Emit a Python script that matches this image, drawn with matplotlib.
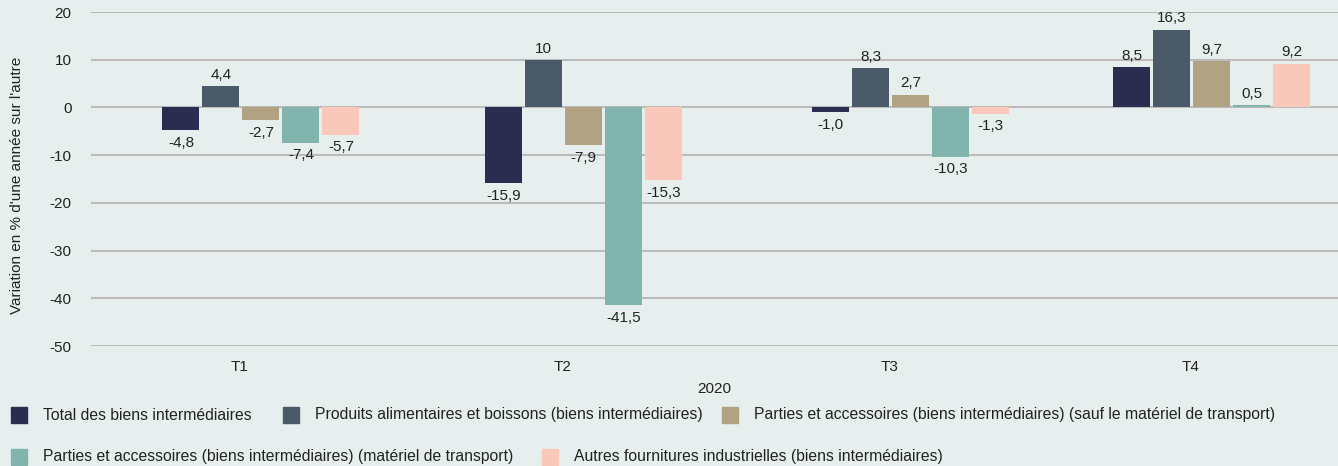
import matplotlib.pyplot as plt
from matplotlib.patches import Rectangle
import numpy as np

plt.rcParams["font.family"] = ["Liberation Sans", "DejaVu Sans"]
plt.rcParams["axes.unicode_minus"] = False

quarters = ["T1", "T2", "T3", "T4"]
series_names = [
    "Total des biens intermédiaires",
    "Produits alimentaires et boissons (biens intermédiaires)",
    "Parties et accessoires (biens intermédiaires) (sauf le matériel de transport)",
    "Parties et accessoires (biens intermédiaires) (matériel de transport)",
    "Autres fournitures industrielles (biens intermédiaires)",
]
total = [-4.8, -15.9, -1.0, 8.5]
food = [4.4, 10.0, 8.3, 16.3]
parts_excl = [-2.7, -7.9, 2.7, 9.7]
parts_transport = [-7.4, -41.5, -10.3, 0.5]
other = [-5.7, -15.3, -1.3, 9.2]
labels = [
    ["-4,8", "-15,9", "-1,0", "8,5"],
    ["4,4", "10", "8,3", "16,3"],
    ["-2,7", "-7,9", "2,7", "9,7"],
    ["-7,4", "-41,5", "-10,3", "0,5"],
    ["-5,7", "-15,3", "-1,3", "9,2"],
]
colors = ["#2b2d50", "#4a5a68", "#b0a283", "#82b4ae", "#f9c8ba"]
bg = "#e7efee"

# the source spaces its quarter groups slightly unevenly
group_centers = np.array([0.0, 1.0177, 2.051, 3.0])

W, H = 1338, 466
fig = plt.figure(figsize=(W / 100, H / 100), dpi=100, facecolor=bg)
ax = fig.add_axes([91 / W, 1 - 346 / H, 1 - 91 / W, (346 - 12) / H])
ax.set_facecolor(bg)

width = 0.1168
step = 0.1262
shift = 0.0663
data = [total, food, parts_excl, parts_transport, other]
for i, (vals, col) in enumerate(zip(data, colors)):
    pos = group_centers + shift + (i - 2) * step
    ax.bar(pos, vals, width=width, color=col, zorder=3)
    for px, v, lab in zip(pos, vals, labels[i]):
        if v >= 0:
            ax.annotate(lab, (px, v), xytext=(0, 3), textcoords="offset points",
                        ha="center", va="bottom", fontsize=11, color="#222222")
        else:
            ax.annotate(lab, (px, v), xytext=(0, -4), textcoords="offset points",
                        ha="center", va="top", fontsize=11, color="#222222")

ax.set_xlim(-0.470, 3.465)
ax.set_ylim(-50, 20)
ax.set_yticks(np.arange(-50, 21, 10))
ax.set_xticks(group_centers)
ax.set_xticklabels(quarters)
ax.tick_params(length=0, labelsize=11, colors="#222222")
ax.tick_params(axis="y", pad=14)
ax.tick_params(axis="x", pad=10)
ax.grid(axis="y", color="#bbbbbb", linewidth=1.5, zorder=0)
for s in ax.spines.values():
    s.set_visible(False)
ax.set_xlabel("2020", fontsize=11, color="#222222", labelpad=6)
fig.text(17 / W, 1 - 185 / H, "Variation en % d'une année sur l'autre", rotation=90,
         ha="center", va="center", fontsize=11, color="#222222")

# legend, laid out in two rows as in the source
legend_items = [
    (0, 11, 415), (1, 283, 415), (2, 722, 415),
    (3, 11, 457), (4, 542, 457),
]
for idx, lx, ly in legend_items:
    fig.patches.append(Rectangle((lx / W, 1 - (ly + 8) / H), 16 / W, 16 / H,
                                 transform=fig.transFigure, color=colors[idx]))
    fig.text((lx + 32) / W, 1 - ly / H, series_names[idx], ha="left", va="center",
             fontsize=11.3, color="#222222")

fig.savefig("out.png", dpi=100, facecolor=bg)
